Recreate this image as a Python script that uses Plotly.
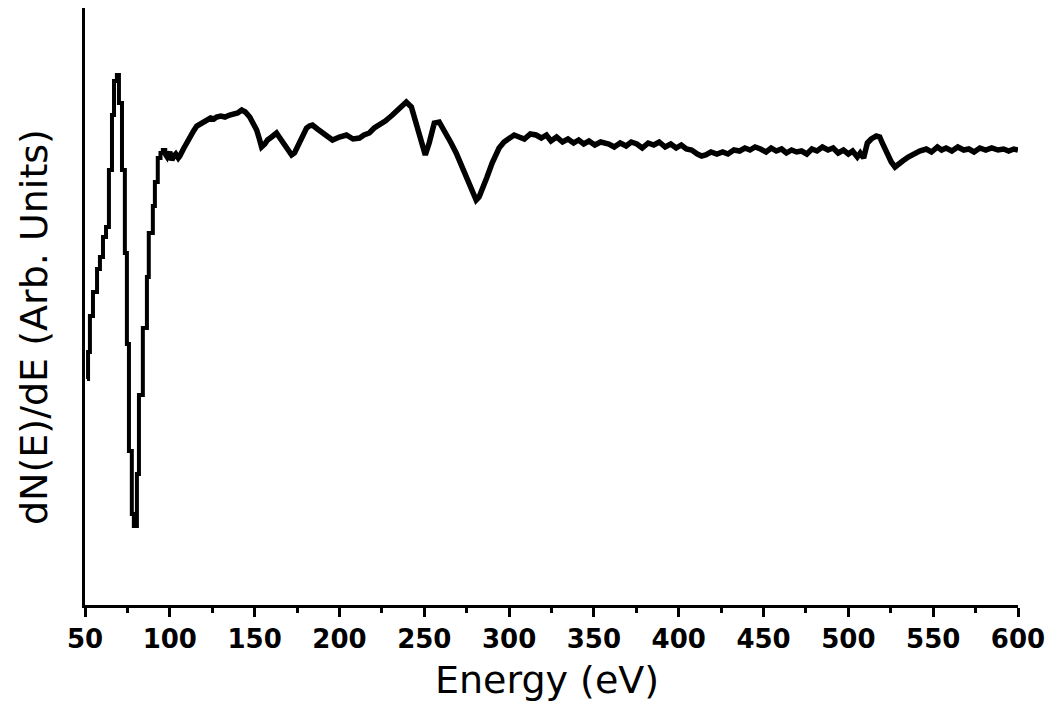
import plotly.graph_objects as go

# Energy (eV) and dN(E)/dE signal (arbitrary units)
energy_ev = [
    51.2, 51.8, 52.9, 54.7, 57.1, 58.8, 60.6, 62.4, 64.1, 65.9,
    67.1, 68.8, 70.0, 71.8, 73.5, 74.7, 75.9, 77.6, 78.8, 80.6,
    81.8, 84.1, 86.5, 87.6, 90.0, 91.2, 92.9, 94.5, 95.9, 97.3,
    98.5, 100.0, 101.2, 102.4, 103.5, 105.0, 105.9, 108.0, 110.0, 112.0,
    114.0, 115.9, 118.0, 120.0, 121.8, 124.0, 126.0, 127.6, 130.0, 132.5,
    135.3, 137.5, 140.0, 142.4, 144.5, 147.1, 149.0, 151.2, 152.8, 154.1,
    156.0, 157.6, 160.0, 162.9, 164.5, 166.5, 169.0, 171.8, 173.5, 175.3,
    178.0, 180.6, 182.3, 184.1, 187.0, 190.0, 193.0, 195.9, 200.0, 204.1,
    208.0, 211.8, 214.5, 217.6, 220.5, 223.5, 227.0, 231.2, 235.0, 239.4,
    242.4, 245.3, 248.2, 250.6, 252.9, 255.9, 258.8, 262.9, 265.8, 268.8,
    271.8, 274.7, 278.2, 280.6, 282.3, 284.1, 287.0, 290.0, 294.1, 297.0,
    300.0, 303.0, 305.9, 309.0, 312.5, 315.9, 319.0, 322.0, 324.7, 328.0,
    331.5, 334.7, 338.0, 341.0, 344.0, 347.1, 350.5, 354.0, 358.8, 362.0,
    365.5, 369.0, 372.0, 375.3, 378.5, 382.0, 385.3, 388.5, 392.0, 395.3,
    398.5, 401.5, 404.5, 407.6, 411.0, 413.5, 415.9, 419.0, 422.5, 425.9,
    429.0, 432.5, 435.9, 439.0, 442.0, 445.0, 448.2, 451.5, 454.5, 457.5,
    460.6, 463.5, 466.5, 469.5, 472.4, 475.5, 478.5, 481.5, 484.7, 488.0,
    491.0, 494.0, 497.1, 500.0, 502.5, 505.3, 507.0, 509.0, 511.2, 513.5,
    516.5, 518.5, 520.0, 522.5, 525.3, 527.5, 529.4, 532.0, 535.3, 538.5,
    542.0, 545.9, 549.0, 552.5, 555.0, 557.6, 561.0, 564.5, 568.0, 571.0,
    574.1, 577.5, 581.0, 584.5, 588.2, 591.5, 594.5, 597.5, 600.0,
]
signal = [
    226, 253, 289, 313, 336, 348, 368, 378, 435, 490,
    524, 530, 502, 435, 352, 261, 154, 91, 79, 131,
    210, 277, 328, 372, 399, 423, 447, 452, 455, 451,
    448, 453, 445, 449, 451, 447, 449, 456, 463, 468,
    474, 479, 481, 484, 485, 487, 486, 488, 489, 488,
    490, 491, 492, 495, 493, 488, 482, 475, 466, 458,
    461, 465, 468, 472, 468, 463, 457, 450, 452, 458,
    468, 477, 479, 480, 476, 472, 469, 465, 468, 470,
    466, 467, 470, 472, 477, 480, 484, 490, 496, 503,
    498, 482, 462, 450, 462, 482, 483, 472, 462, 452,
    440, 428, 412, 405, 408, 415, 428, 442, 457, 463,
    467, 470, 468, 466, 471, 470, 467, 470, 464, 468,
    463, 466, 462, 465, 461, 464, 460, 463, 461, 458,
    462, 459, 463, 461, 457, 462, 460, 463, 458, 461,
    457, 460, 456, 455, 451, 449, 450, 453, 451, 453,
    451, 455, 454, 457, 455, 458, 456, 453, 457, 454,
    456, 452, 455, 453, 454, 451, 456, 454, 458, 455,
    457, 452, 455, 451, 454, 448, 452, 447, 462, 466,
    469, 468, 462, 452, 443, 438, 440, 444, 448, 451,
    454, 456, 453, 458, 455, 457, 454, 458, 455, 456,
    453, 457, 455, 457, 455, 456, 454, 456, 455,
]
assert len(energy_ev) == len(signal), (len(energy_ev), len(signal))

# the steep low-energy part is drawn stepped, the rest as a plain line
step_end_ev = 96.0

tick_values = [50, 100, 150, 200, 250, 300, 350, 400, 450, 500, 550, 600]
tick_labels = [str(v) for v in tick_values]

n_step = sum(1 for e in energy_ev if e <= step_end_ev)

fig = go.Figure()
fig.add_trace(go.Scatter(
    x=energy_ev[:n_step + 1], y=signal[:n_step + 1], mode="lines",
    line=dict(color="black", width=4, shape="hv"),
    showlegend=False, hoverinfo="skip",
))
fig.add_trace(go.Scatter(
    x=energy_ev[n_step:], y=signal[n_step:], mode="lines",
    line=dict(color="black", width=5.5),
    showlegend=False, hoverinfo="skip",
))

fig.update_layout(
    width=1053, height=703,
    margin=dict(l=85, r=33, t=8, b=98),
    paper_bgcolor="white", plot_bgcolor="white",
    xaxis=dict(
        range=[50, 600], showgrid=False, zeroline=False,
        showline=True, linecolor="black", linewidth=3,
        ticks="outside", ticklen=9, tickwidth=3, tickcolor="black",
        tickvals=tick_values, ticktext=tick_labels,
        tickfont=dict(family="DejaVu Sans", size=26, color="black", weight="bold"),
        minor=dict(dtick=25, tick0=25, ticks="outside", ticklen=5, tickwidth=3, tickcolor="black"),
    ),
    yaxis=dict(
        range=[0, 597], showgrid=False, zeroline=False,
        showline=True, linecolor="black", linewidth=3,
        showticklabels=False, ticks="",
    ),
    annotations=[
        dict(text="Energy (eV)", xref="paper", yref="paper", x=0.495, y=-0.125,
             xanchor="center", yanchor="middle", showarrow=False,
             font=dict(family="DejaVu Sans", size=38, color="black")),
        dict(text="dN(E)/dE (Arb. Units)", xref="paper", yref="paper", x=-0.054, y=0.465,
             xanchor="center", yanchor="middle", showarrow=False, textangle=-90,
             font=dict(family="DejaVu Sans", size=38, color="black")),
    ],
)

fig.write_html("out.html", config={"displayModeBar": False},
               post_script="document.body.style.margin='0px';")
